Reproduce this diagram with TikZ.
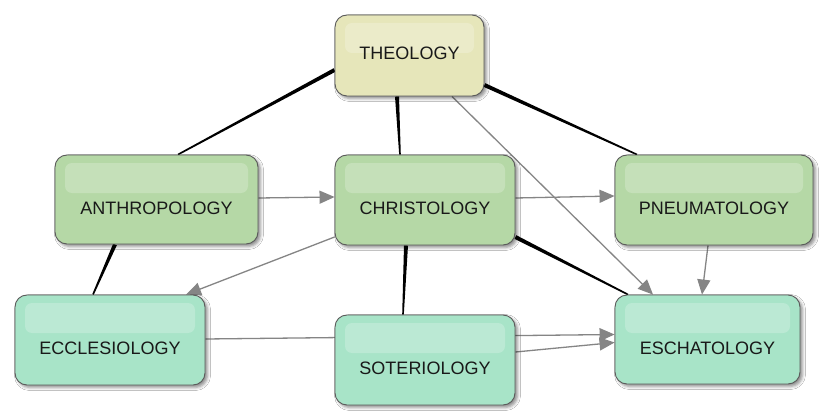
\documentclass[tikz,border=0pt]{standalone}
\usepackage{fontspec}
\setmainfont{Liberation Sans}
\usetikzlibrary{calc,shadows.blur,arrows.meta,backgrounds}
\definecolor{theofill}{RGB}{230,230,186}
\definecolor{greenfill}{RGB}{181,216,166}
\definecolor{tealfill}{RGB}{168,228,200}
\definecolor{boxline}{RGB}{90,90,90}
\definecolor{arrowgray}{RGB}{133,133,133}
\definecolor{txt}{RGB}{25,25,25}
\tikzset{
  box/.style={draw=boxline, line width=0.9pt, rounded corners=12pt, inner sep=0pt,
    blur shadow={shadow xshift=2.5pt, shadow yshift=-2.5pt, shadow blur radius=3pt, shadow opacity=45},
    path picture={\fill[white,opacity=0.22,rounded corners=7pt]
      ([xshift=10pt,yshift=-8pt]path picture bounding box.north west) rectangle
      ([xshift=-10pt,yshift=-38pt]path picture bounding box.north east);}},
  lbl/.style={text=txt, font=\fontsize{18}{20}\selectfont, inner sep=0pt},
  garrow/.style={draw=arrowgray, line width=1.3pt, -{Triangle[length=15pt,width=13pt]}},
  taper/.style={fill=black, to path={
    ($(\tikztostart)!2pt!90:(\tikztotarget)$) --
    ($(\tikztotarget)!0.8pt!-90:(\tikztostart)$) --
    ($(\tikztotarget)!0.8pt!90:(\tikztostart)$) --
    ($(\tikztostart)!2pt!-90:(\tikztotarget)$) -- cycle}}
}
\begin{document}
\begin{tikzpicture}[x=1pt,y=-1pt]
\useasboundingbox (0,0) rectangle (820,420);

\node[box, fill=theofill, minimum width=149pt, minimum height=81pt,
  label={[lbl,yshift=2pt]center:THEOLOGY}] (theo) at (409.5,55.5) {};
\node[box, fill=greenfill, minimum width=203pt, minimum height=89pt,
  label={[lbl,yshift=-8.7pt]center:ANTHROPOLOGY}] (anth) at (156.5,199.5) {};
\node[box, fill=greenfill, minimum width=180pt, minimum height=90pt,
  label={[lbl,yshift=-8.7pt]center:CHRISTOLOGY}] (chri) at (425,200) {};
\node[box, fill=greenfill, minimum width=198pt, minimum height=90pt,
  label={[lbl,yshift=-8.7pt]center:PNEUMATOLOGY}] (pneu) at (714,200) {};
\node[box, fill=tealfill, minimum width=190pt, minimum height=90pt,
  label={[lbl,yshift=-8.7pt]center:ECCLESIOLOGY}] (eccl) at (110,340) {};
\node[box, fill=tealfill, minimum width=180pt, minimum height=90pt,
  label={[lbl,yshift=-8.7pt]center:SOTERIOLOGY}] (soter) at (425,360) {};
\node[box, fill=tealfill, minimum width=185pt, minimum height=89pt,
  label={[lbl,yshift=-8.7pt]center:ESCHATOLOGY}] (escha) at (707.5,339.5) {};

\begin{scope}[on background layer]
\fill[white] (0,0) rectangle (820,420);
\fill[taper] ([yshift=-14.5pt]theo.west) to ([xshift=21.5pt]anth.north);
\fill[taper] ([xshift=-12.5pt]theo.south) to ([xshift=-25pt]chri.north);
\fill[taper] ([yshift=-29.5pt]theo.east) to ([xshift=-77pt]pneu.north);
\fill[taper] ([yshift=-37pt]chri.east) to ([xshift=-79.5pt]escha.north);
\fill[taper] ([xshift=-19pt]chri.south) to ([xshift=-22pt]soter.north);
\fill[taper] ([xshift=-41.5pt]anth.south) to ([xshift=-17pt]eccl.north);

\draw[garrow] ([xshift=42.5pt]theo.south) -- ([xshift=-54.5pt]escha.north);
\draw[garrow] ([yshift=1.5pt]anth.east) -- ([yshift=3pt]chri.west);
\draw[garrow] ([yshift=2pt]chri.east) -- ([yshift=4pt]pneu.west);
\draw[garrow] ([yshift=-37pt]chri.west) -- ([xshift=76pt]eccl.north);
\draw[garrow] ([xshift=-6pt]pneu.south) -- ([xshift=-5.5pt]escha.north);
\draw[garrow] ([yshift=1pt]eccl.east) -- ([yshift=5pt]escha.west);
\draw[garrow] ([yshift=8pt]soter.east) -- ([yshift=-3pt]escha.west);
\end{scope}
\end{tikzpicture}
\end{document}
